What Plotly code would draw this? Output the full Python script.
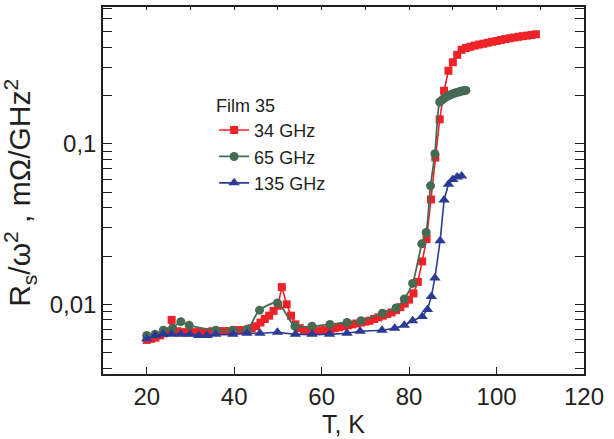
import plotly.graph_objects as go

# ---- data ----
red_T = [20, 21, 22, 23, 24, 25, 25.7, 27, 28, 29, 30, 31, 32, 33, 34, 35, 36, 37, 38, 39,
         40, 41, 42, 43, 44, 45, 46, 47, 48, 49, 50, 50.9, 52, 53, 54, 55, 56, 57, 58, 59,
         60, 61, 62, 63, 64, 65, 66, 67, 68, 69, 70, 71, 72, 73, 74, 75, 76, 77, 78, 79,
         80, 81, 82, 83, 84, 85, 86, 87, 88, 89, 90, 91, 92, 93, 94, 95, 96, 97, 98, 99,
         100, 101, 102, 103, 104, 105, 106, 107, 108, 109]
red_R = [0.0060, 0.0061, 0.0062, 0.0064, 0.0066, 0.0068, 0.0080, 0.0068, 0.0067, 0.0067,
         0.0067, 0.0067, 0.0067, 0.0067, 0.0067, 0.0068, 0.0068, 0.0068, 0.0068, 0.0068,
         0.0069, 0.0069, 0.0069, 0.0069, 0.0071, 0.0073, 0.0077, 0.0081, 0.0085, 0.0091,
         0.0098, 0.0128, 0.0100, 0.0085, 0.0075, 0.0071, 0.0069, 0.0068, 0.0068, 0.0068,
         0.0069, 0.0069, 0.0070, 0.0071, 0.0072, 0.0073, 0.0074, 0.0075, 0.0076, 0.0077,
         0.0078, 0.0079, 0.0081, 0.0083, 0.0085, 0.0087, 0.0089, 0.0092, 0.0096, 0.0101,
         0.0107, 0.0117, 0.0138, 0.0185, 0.0255, 0.045, 0.082, 0.142, 0.214, 0.285,
         0.322, 0.358, 0.385, 0.395, 0.402, 0.409, 0.415, 0.420, 0.426, 0.432,
         0.437, 0.443, 0.449, 0.454, 0.459, 0.464, 0.468, 0.472, 0.476, 0.481]

green_T = [20, 21.9, 23.8, 25.9, 27.8, 29.7, 35.8, 39.7, 43, 45.8, 49.9, 53.9, 57.8, 61.9,
           65.8, 69, 73.9, 77, 78.9, 80.8, 82.9, 83.9, 84.9, 85.9, 87, 87.5, 88, 88.5, 89,
           89.5, 90, 90.5, 91, 91.5, 92, 92.5, 93]
green_R = [0.0064, 0.0065, 0.0069, 0.0071, 0.0078, 0.0074, 0.0069, 0.0069, 0.0070, 0.0092,
           0.0102, 0.0073, 0.0073, 0.0075, 0.0077, 0.0079, 0.0088, 0.0095, 0.0108, 0.0135,
           0.0238, 0.028, 0.0547, 0.0867, 0.182, 0.187, 0.192, 0.196, 0.199, 0.202, 0.205,
           0.207, 0.209, 0.211, 0.213, 0.214, 0.215]

blue_T = [20, 21.9, 23.8, 25.7, 27.8, 29.9, 31.9, 33.8, 35.8, 39.7, 42.9, 45.9, 49.9, 54,
          57.8, 61.8, 65.8, 68.8, 73.8, 76.7, 78.9, 80.8, 83, 84.2, 85.1, 85.9, 87.1, 88,
          89, 90, 91, 92]
blue_R = [0.0061, 0.0064, 0.0065, 0.0065, 0.0065, 0.0065, 0.0064, 0.0064, 0.0065, 0.0065,
          0.0066, 0.0066, 0.0067, 0.0065, 0.0065, 0.0065, 0.0066, 0.0068, 0.0069, 0.0071,
          0.0074, 0.0079, 0.0084, 0.0093, 0.0112, 0.0146, 0.0249, 0.0446, 0.056, 0.060,
          0.062, 0.063]

series_names = ["34 GHz", "65 GHz", "135 GHz"]
x_tickvals = [20, 40, 60, 80, 100, 120]
y_tickvals = [0.01, 0.1]
y_ticktext = ["0,01", "0,1"]
y_minor = [0.004, 0.005, 0.006, 0.007, 0.008, 0.009, 0.02, 0.03, 0.04, 0.05, 0.06, 0.07,
           0.08, 0.09, 0.2, 0.3, 0.4, 0.5, 0.6, 0.7]
y_title = "R<sub>s</sub>/ω<sup>2</sup> , mΩ/GHz<sup>2</sup>"

RED = "#EE2229"
GREEN = "#476B52"
BLUE = "#2B3A94"
FONT = "Liberation Sans, Arial, Helvetica, sans-serif"
INK = "#231F20"

fig = go.Figure()
fig.add_trace(go.Scatter(x=red_T, y=red_R, name=series_names[0], mode="lines+markers",
                         line=dict(color=RED, width=1.6),
                         marker=dict(symbol="square", size=8, color=RED)))
fig.add_trace(go.Scatter(x=green_T, y=green_R, name=series_names[1], mode="lines+markers",
                         line=dict(color=GREEN, width=1.8, shape="spline", smoothing=0.8),
                         marker=dict(symbol="circle", size=9, color=GREEN)))
fig.add_trace(go.Scatter(x=blue_T, y=blue_R, name=series_names[2], mode="lines+markers",
                         line=dict(color=BLUE, width=1.6),
                         marker=dict(symbol="triangle-up", size=10, color=BLUE)))
# invisible trace that carries the top-axis ticks
fig.add_trace(go.Scatter(x=[10, 120], y=[0.01, 0.01], xaxis="x2", mode="markers",
                         marker=dict(opacity=0), showlegend=False, hoverinfo="skip"))

fig.update_layout(
    width=614, height=439,
    margin=dict(l=103, r=30, t=5, b=65),
    paper_bgcolor="white", plot_bgcolor="white",
    font=dict(family=FONT, color=INK, size=24),
    showlegend=True,
    legend=dict(x=0.231, y=0.778, xanchor="left", yanchor="top",
                font=dict(size=18, family=FONT, color=INK),
                title=dict(text="Film 35", font=dict(size=18, family=FONT, color=INK)),
                bgcolor="rgba(0,0,0,0)", tracegroupgap=0, itemwidth=30),
    xaxis=dict(range=[10, 120], tickvals=x_tickvals,
               ticks="inside", ticklen=7, tickwidth=1, tickcolor=INK,
               showline=True, linecolor=INK, linewidth=1.5, mirror=True,
               showgrid=False, zeroline=False,
               tickfont=dict(size=24),
               title=dict(text="T, K", font=dict(size=25), standoff=2)),
    xaxis2=dict(range=[10, 120], overlaying="x", side="top", dtick=10, tick0=0,
                ticks="inside", ticklen=3, tickwidth=1, tickcolor=INK,
                showticklabels=False, showline=False, showgrid=False, zeroline=False),
    yaxis=dict(type="log", range=[-2.434, -0.148],
               tickvals=y_tickvals, ticktext=y_ticktext,
               ticks="inside", ticklen=9, tickwidth=1, tickcolor=INK,
               minor=dict(tickvals=y_minor, ticks="inside", ticklen=4, tickwidth=1,
                          tickcolor=INK, showgrid=False),
               showline=True, linecolor=INK, linewidth=1.5, mirror="allticks",
               showgrid=False, zeroline=False,
               tickfont=dict(size=24)),
    annotations=[dict(text=y_title, textangle=-90, xref="paper", yref="paper",
                      x=-0.173, y=0.493, xanchor="center", yanchor="middle",
                      showarrow=False, font=dict(size=30, family=FONT, color=INK))],
)

fig.write_html("out.html")
